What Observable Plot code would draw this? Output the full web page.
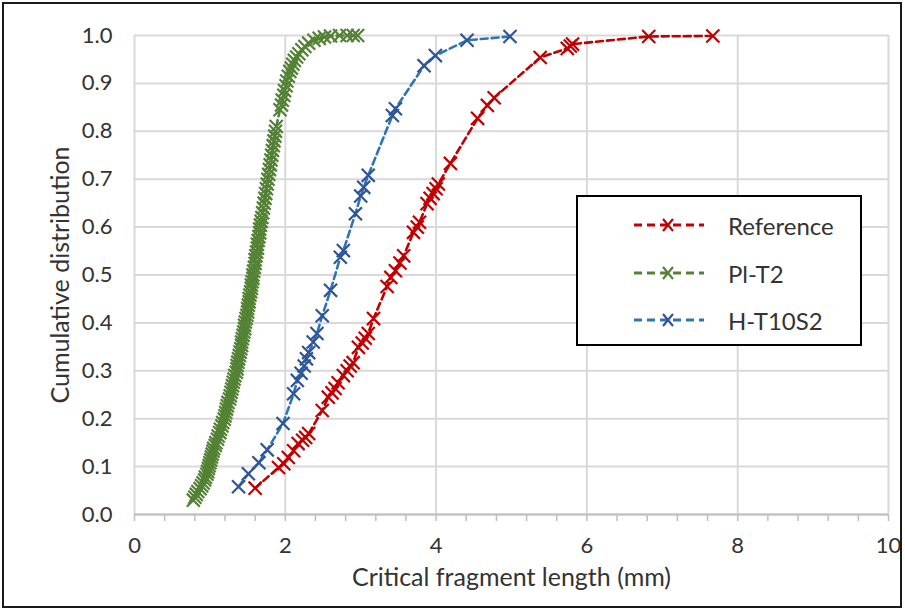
<!DOCTYPE html>
<html>
<head>
<meta charset="utf-8">
<script src="https://cdn.jsdelivr.net/npm/d3@7"></script>
<script src="https://cdn.jsdelivr.net/npm/@observablehq/plot@0.6"></script>
<style>
  body { margin: 0; background: #fff; }
  #wrap { position: relative; width: 905px; height: 610px; font-family: Lato, "Open Sans", sans-serif; }
  #border { position: absolute; left: 2px; top: 2px; width: 896px; height: 602px; border: 2px solid #1a1a1a; pointer-events: none; }
  #legend { position: absolute; left: 576px; top: 195px; width: 282px; height: 147px; border: 2px solid #000; background: #fff; }
  .row { position: absolute; left: 54px; height: 30px; display: flex; align-items: center; }
  .row span { margin-left: 22px; font-size: 24px; color: #333; }
</style>
</head>
<body>
<div id="wrap">
  <div id="chart"></div>
  <div id="legend"></div>
  <div id="border"></div>
</div>
<script>
// ---- data ----
const seriesNames = ["Reference", "Pl-T2", "H-T10S2"];
const lineColors = ["#C00000", "#548235", "#2E75B6"];
const markerColors = ["#C00000", "#548235", "#2F5597"];

const refX = [1.60, 1.91, 1.98, 2.04, 2.11, 2.17, 2.23, 2.27, 2.31, 2.49, 2.57, 2.62, 2.66, 2.70, 2.77, 2.82, 2.86, 2.90, 2.97, 3.02, 3.06, 3.10, 3.17, 3.35, 3.40, 3.46, 3.52, 3.57, 3.70, 3.75, 3.78, 3.88, 3.92, 3.96, 4.00, 4.03, 4.19, 4.55, 4.68, 4.77, 5.38, 5.74, 5.78, 5.81, 6.82, 7.67];
const refY = [0.055, 0.098, 0.106, 0.119, 0.133, 0.148, 0.155, 0.161, 0.169, 0.217, 0.245, 0.254, 0.263, 0.275, 0.290, 0.300, 0.310, 0.317, 0.349, 0.358, 0.368, 0.378, 0.409, 0.476, 0.495, 0.509, 0.525, 0.540, 0.589, 0.600, 0.610, 0.649, 0.660, 0.670, 0.680, 0.690, 0.733, 0.827, 0.854, 0.870, 0.954, 0.973, 0.978, 0.982, 0.998, 0.999];

const plX = [0.78, 0.80, 0.82, 0.84, 0.87, 0.89, 0.91, 0.93, 0.94, 0.96, 0.97, 0.98, 0.99, 1.00, 1.01, 1.02, 1.03, 1.04, 1.05, 1.07,
  1.08, 1.10, 1.11, 1.13, 1.14, 1.16, 1.17, 1.19, 1.20, 1.21, 1.22, 1.23, 1.24, 1.26, 1.27, 1.28, 1.29, 1.30, 1.31, 1.32,
  1.33, 1.35, 1.36, 1.36, 1.37, 1.38, 1.39, 1.40, 1.41, 1.42, 1.42, 1.43, 1.44, 1.45, 1.46, 1.46, 1.47, 1.48, 1.49, 1.50,
  1.50, 1.51, 1.52, 1.52, 1.53, 1.54, 1.55, 1.55, 1.56, 1.57, 1.57, 1.58, 1.59, 1.60, 1.60, 1.61, 1.62, 1.63, 1.63, 1.64,
  1.65, 1.66, 1.66, 1.67, 1.68, 1.69, 1.70, 1.71, 1.72, 1.73, 1.74, 1.75, 1.76, 1.77, 1.78, 1.79, 1.80, 1.81, 1.82, 1.83,
  1.84, 1.85, 1.86, 1.87, 1.88, 1.93, 1.95, 1.96, 1.98, 1.99, 2.01, 2.02, 2.04, 2.06, 2.08, 2.10, 2.12, 2.15, 2.18, 2.22,
  2.26, 2.31, 2.38, 2.45, 2.52, 2.60, 2.72, 2.82, 2.90, 2.96];
const plY = [0.030, 0.036, 0.042, 0.048, 0.054, 0.060, 0.066, 0.072, 0.078, 0.084, 0.090, 0.096, 0.102, 0.108, 0.114, 0.120, 0.126, 0.132, 0.138, 0.144,
  0.150, 0.157, 0.164, 0.171, 0.178, 0.185, 0.192, 0.199, 0.206, 0.213, 0.220, 0.227, 0.234, 0.241, 0.248, 0.255, 0.262, 0.269, 0.276, 0.283,
  0.290, 0.297, 0.304, 0.311, 0.318, 0.325, 0.332, 0.339, 0.346, 0.353, 0.360, 0.367, 0.374, 0.381, 0.388, 0.395, 0.402, 0.409, 0.416, 0.423,
  0.430, 0.437, 0.444, 0.451, 0.458, 0.465, 0.472, 0.479, 0.486, 0.493, 0.500, 0.508, 0.516, 0.524, 0.532, 0.540, 0.548, 0.556, 0.564, 0.572,
  0.580, 0.588, 0.596, 0.604, 0.612, 0.620, 0.630, 0.640, 0.650, 0.660, 0.670, 0.680, 0.690, 0.700, 0.710, 0.720, 0.730, 0.740, 0.750, 0.760,
  0.770, 0.780, 0.790, 0.800, 0.810, 0.845, 0.855, 0.865, 0.875, 0.885, 0.895, 0.905, 0.915, 0.925, 0.932, 0.940, 0.948, 0.955, 0.962, 0.970,
  0.977, 0.984, 0.990, 0.994, 0.997, 0.999, 1.000, 1.000, 1.000, 1.000];

const hX = [1.38, 1.51, 1.65, 1.76, 1.97, 2.11, 2.16, 2.21, 2.25, 2.28, 2.31, 2.37, 2.42, 2.49, 2.60, 2.73, 2.77, 2.93, 3.00, 3.04, 3.10, 3.42, 3.46, 3.84, 3.99, 4.41, 4.98];
const hY = [0.058, 0.085, 0.108, 0.135, 0.190, 0.252, 0.280, 0.295, 0.310, 0.325, 0.338, 0.360, 0.378, 0.415, 0.468, 0.537, 0.551, 0.628, 0.665, 0.683, 0.708, 0.833, 0.847, 0.937, 0.958, 0.990, 0.998];

const xTicks = [0, 2, 4, 6, 8, 10];
const xMinorTicks = [0, 0.4, 0.8, 1.2, 1.6, 2, 2.4, 2.8, 3.2, 3.6, 4, 4.4, 4.8, 5.2, 5.6, 6, 6.4, 6.8, 7.2, 7.6, 8, 8.4, 8.8, 9.2, 9.6, 10];
const yTicks = [0, 0.1, 0.2, 0.3, 0.4, 0.5, 0.6, 0.7, 0.8, 0.9, 1.0];
const xTitle = "Critical fragment length (mm)";
const yTitle = "Cumulative distribution";

// ---- build ----
const seriesData = [
  refX.map((x, i) => ({series: seriesNames[0], x, y: refY[i]})),
  plX.map((x, i) => ({series: seriesNames[1], x, y: plY[i]})),
  hX.map((x, i) => ({series: seriesNames[2], x, y: hY[i]}))
];

const seriesMarks = [];
seriesData.forEach((d, k) => {
  seriesMarks.push(Plot.line(d, {x: "x", y: "y", stroke: lineColors[k], strokeWidth: 2.6, strokeDasharray: "7,4"}));
  seriesMarks.push(Plot.dot(d, {x: "x", y: "y", symbol: "times", r: 6, stroke: markerColors[k], strokeWidth: 2.2}));
});

const chart = Plot.plot({
  width: 905,
  height: 610,
  marginLeft: 134,
  marginRight: 17,
  marginTop: 35,
  marginBottom: 96,
  style: {fontFamily: "Lato, 'Open Sans', sans-serif", fontSize: "22px", color: "#333", background: "transparent"},
  x: {domain: [0, 10], label: null},
  y: {domain: [0, 1], label: null},
  marks: [
    Plot.ruleX(xTicks, {stroke: "#d9d9d9", strokeWidth: 2}),
    Plot.ruleY(yTicks, {stroke: "#d9d9d9", strokeWidth: 2}),
    Plot.ruleY([0], {stroke: "#bfbfbf", strokeWidth: 2}),
    Plot.axisX({ticks: xMinorTicks, tickSize: 7, tickFormat: () => "", stroke: "#bfbfbf", strokeWidth: 1.5, label: null}),
    Plot.axisX({ticks: xTicks, tickSize: 0, tickPadding: 23, tickFormat: d => String(d), label: null}),
    Plot.axisY({ticks: yTicks, tickSize: 0, tickPadding: 22, tickFormat: d3.format(".1f"), label: null}),
    Plot.text([xTitle], {frameAnchor: "bottom", textAnchor: "middle", dy: 71, fontSize: 25, fill: "#333"}),
    Plot.text([yTitle], {frameAnchor: "left", textAnchor: "middle", dx: -74, rotate: -90, fontSize: 25, fill: "#333"}),
    ...seriesMarks
  ]
});
document.getElementById("chart").appendChild(chart);

// ---- legend ----
const legend = document.getElementById("legend");
const rowTops = [13, 61, 108];
seriesNames.forEach((name, k) => {
  const row = document.createElement("div");
  row.className = "row";
  row.style.top = rowTops[k] + "px";
  const ns = "http://www.w3.org/2000/svg";
  const svg = document.createElementNS(ns, "svg");
  svg.setAttribute("width", "74");
  svg.setAttribute("height", "20");
  const ln = document.createElementNS(ns, "line");
  ln.setAttribute("x1", "2"); ln.setAttribute("x2", "72");
  ln.setAttribute("y1", "10"); ln.setAttribute("y2", "10");
  ln.setAttribute("stroke", lineColors[k]);
  ln.setAttribute("stroke-width", "3");
  ln.setAttribute("stroke-dasharray", "8,5");
  svg.appendChild(ln);
  const p = document.createElementNS(ns, "path");
  p.setAttribute("d", "M31,4L41,16M41,4L31,16");
  p.setAttribute("stroke", markerColors[k]);
  p.setAttribute("stroke-width", "2.2");
  p.setAttribute("fill", "none");
  svg.appendChild(p);
  row.appendChild(svg);
  const t = document.createElement("span");
  t.textContent = name;
  row.appendChild(t);
  legend.appendChild(row);
});
</script>
</body>
</html>
